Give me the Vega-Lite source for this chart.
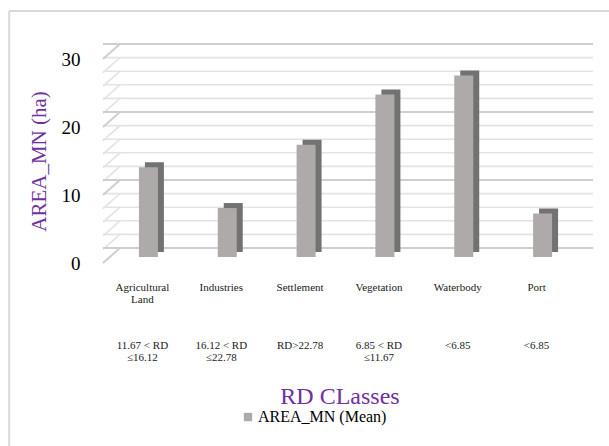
{
  "$schema": "https://vega.github.io/schema/vega-lite/v6.json",
  "width": 473,
  "height": 204,
  "autosize": "none",
  "padding": {"left": 103, "top": 59, "right": 33, "bottom": 183},
  "background": "white",
  "config": {
    "view": {"stroke": null},
    "font": "Liberation Serif"
  },
  "datasets": {
    "bars": [
      {"category": "Agricultural Land", "name": "Agricultural\nLand", "rd": "11.67 < RD\n≤16.12", "value": 13.2, "series": "AREA_MN (Mean)"},
      {"category": "Industries", "name": "Industries", "rd": "16.12 < RD\n≤22.78", "value": 7.2, "series": "AREA_MN (Mean)"},
      {"category": "Settlement", "name": "Settlement", "rd": "RD>22.78", "value": 16.5, "series": "AREA_MN (Mean)"},
      {"category": "Vegetation", "name": "Vegetation", "rd": "6.85 < RD\n≤11.67", "value": 23.9, "series": "AREA_MN (Mean)"},
      {"category": "Waterbody", "name": "Waterbody", "rd": "<6.85", "value": 26.7, "series": "AREA_MN (Mean)"},
      {"category": "Port", "name": "Port", "rd": "<6.85", "value": 6.4, "series": "AREA_MN (Mean)"}
    ],
    "grid": [
      {"v": 0, "major": true}, {"v": 2, "major": false}, {"v": 4, "major": false}, {"v": 6, "major": false},
      {"v": 8, "major": false}, {"v": 10, "major": true}, {"v": 12, "major": false}, {"v": 14, "major": false},
      {"v": 16, "major": false}, {"v": 18, "major": false}, {"v": 20, "major": true}, {"v": 22, "major": false},
      {"v": 24, "major": false}, {"v": 26, "major": false}, {"v": 28, "major": false}, {"v": 30, "major": true}
    ],
    "frame": [{"top": 37.06, "bottom": -40}]
  },
  "layer": [
    {
      "data": {"name": "frame"},
      "mark": {"type": "rule", "color": "#d9d9d9", "strokeWidth": 2},
      "encoding": {
        "x": {"datum": "Agricultural Land", "bandPosition": -1.19, "type": "nominal", "scale": {"domain": ["Agricultural Land", "Industries", "Settlement", "Vegetation", "Waterbody", "Port"], "paddingInner": 0, "paddingOuter": 0}, "axis": {"labels": false, "ticks": false, "domain": false, "title": "RD CLasses", "titleFontSize": 24, "titleFontWeight": "normal", "titleColor": "#7030a0", "titlePadding": 121}},
        "y": {"field": "top", "type": "quantitative", "scale": {"domain": [0, 30], "nice": false}, "axis": {"values": [0, 10, 20, 30], "grid": false, "ticks": false, "domain": false, "labelFontSize": 19, "labelColor": "#000000", "labelPadding": 23, "title": "AREA_MN (ha)", "titleFontSize": 21, "titleFontWeight": "normal", "titleColor": "#7030a0", "titlePadding": 12}},
        "y2": {"field": "bottom"}
      }
    },
    {
      "data": {"name": "frame"},
      "mark": {"type": "rule", "color": "#d9d9d9", "strokeWidth": 2},
      "encoding": {
        "x": {"datum": "Agricultural Land", "bandPosition": -1.19, "type": "nominal"},
        "x2": {"datum": "Port", "bandPosition": 2},
        "y": {"field": "top", "type": "quantitative"}
      }
    },
    {
      "data": {"name": "grid"},
      "transform": [{"filter": "!datum.major"}],
      "mark": {"type": "rule", "color": "#e3e3e3", "strokeWidth": 1.6, "xOffset": 17, "x2Offset": 17, "yOffset": -15},
      "encoding": {"y": {"field": "v", "type": "quantitative"}}
    },
    {
      "data": {"name": "grid"},
      "transform": [{"filter": "!datum.major"}],
      "mark": {"type": "rule", "color": "#e3e3e3", "strokeWidth": 1.6, "y2Offset": -15},
      "encoding": {
        "x": {"datum": "Agricultural Land", "bandPosition": 0, "type": "nominal"},
        "x2": {"datum": "Agricultural Land", "bandPosition": 0.2155},
        "y": {"field": "v", "type": "quantitative"},
        "y2": {"field": "v"}
      }
    },
    {
      "data": {"name": "grid"},
      "transform": [{"filter": "datum.major"}],
      "mark": {"type": "rule", "color": "#cfcfcf", "strokeWidth": 2, "xOffset": 17, "x2Offset": 17, "yOffset": -15},
      "encoding": {"y": {"field": "v", "type": "quantitative"}}
    },
    {
      "data": {"name": "grid"},
      "transform": [{"filter": "datum.major"}],
      "mark": {"type": "rule", "color": "#cfcfcf", "strokeWidth": 2, "y2Offset": -15},
      "encoding": {
        "x": {"datum": "Agricultural Land", "bandPosition": 0, "type": "nominal"},
        "x2": {"datum": "Agricultural Land", "bandPosition": 0.2155},
        "y": {"field": "v", "type": "quantitative"},
        "y2": {"field": "v"}
      }
    },
    {
      "data": {"name": "bars"},
      "mark": {"type": "bar", "width": 19, "color": "#727272", "xOffset": 12, "yOffset": -11, "y2Offset": -11},
      "encoding": {
        "x": {"field": "category", "type": "nominal", "sort": null},
        "y": {"field": "value", "type": "quantitative"}
      }
    },
    {
      "data": {"name": "bars"},
      "mark": {"type": "bar", "width": 19, "xOffset": 6, "yOffset": -6, "y2Offset": -6},
      "encoding": {
        "x": {"field": "category", "type": "nominal", "sort": null},
        "y": {"field": "value", "type": "quantitative"},
        "color": {"field": "series", "type": "nominal", "scale": {"range": ["#aeaaa9"]}, "legend": {"orient": "none", "legendX": 137, "legendY": 350, "title": null, "symbolType": "square", "symbolSize": 70, "symbolStrokeWidth": 0, "labelFontSize": 16, "labelColor": "#000000", "labelOffset": 2}}
      }
    },
    {
      "data": {"name": "bars"},
      "mark": {"type": "text", "lineBreak": "\n", "baseline": "top", "fontSize": 11, "lineHeight": 12.3, "color": "#1a1a1a"},
      "encoding": {
        "x": {"field": "category", "type": "nominal", "sort": null},
        "y": {"datum": -2.8},
        "text": {"field": "name"}
      }
    },
    {
      "data": {"name": "bars"},
      "mark": {"type": "text", "lineBreak": "\n", "baseline": "top", "fontSize": 11, "lineHeight": 12.3, "color": "#1a1a1a"},
      "encoding": {
        "x": {"field": "category", "type": "nominal", "sort": null},
        "y": {"datum": -11.3},
        "text": {"field": "rd"}
      }
    }
  ]
}
